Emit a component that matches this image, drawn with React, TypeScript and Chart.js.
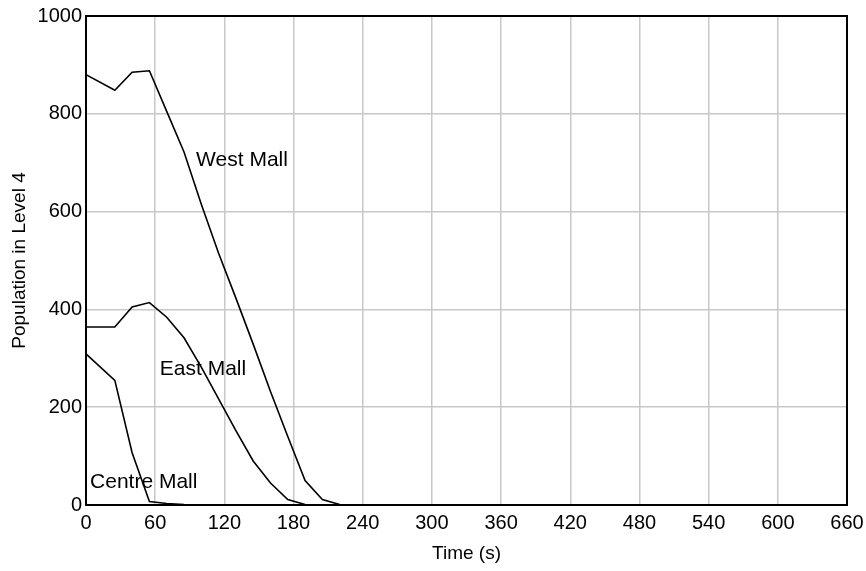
import React, { useEffect, useRef } from "react";
import { Chart, registerables } from "chart.js";

Chart.register(...registerables);

// Time (s)
const times = [0, 25, 40, 55, 70, 85, 100, 115, 130, 145, 160, 175, 190, 205, 220, 235, 648];
// Population in Level 4
const westMall = [880, 848, 885, 888, 805, 722, 615, 515, 423, 329, 232, 140, 50, 11, 1, 0, 0];
const eastMall = [364, 364, 405, 414, 384, 342, 282, 217, 152, 90, 45, 11, 1, 0, 0, 0, 0];
const centreMall = [309, 255, 107, 7, 3, 1, 0, 0, 0, 0, 0, 0, 0, 0, 0, 0, 0];

const seriesNames = ["West Mall", "East Mall", "Centre Mall"];
// label anchor (left edge, vertical centre) in data units
const labelTimes = [95.5, 64, 3.5];
const labelValues = [705, 278, 46];

const xTicks = [0, 60, 120, 180, 240, 300, 360, 420, 480, 540, 600, 660];
const yTicks = [0, 200, 400, 600, 800, 1000];

const FONT = "'Liberation Sans', Arial, sans-serif";

export default function App() {
  const ref = useRef<HTMLCanvasElement>(null);

  useEffect(() => {
    document.body.style.margin = "0";
    const canvas = ref.current;
    if (!canvas) return;

    const toPts = (vals: number[]) => times.map((t, i) => ({ x: t, y: vals[i] }));

    const frame = {
      id: "frameAndLabels",
      beforeDatasetsDraw(chart: any) {
        const { ctx, chartArea } = chart;
        ctx.save();
        ctx.strokeStyle = "#000";
        ctx.lineWidth = 2;
        ctx.strokeRect(chartArea.left, chartArea.top, chartArea.right - chartArea.left, chartArea.bottom - chartArea.top);
        ctx.restore();
      },
      afterDatasetsDraw(chart: any) {
        const { ctx, scales } = chart;
        ctx.save();
        ctx.fillStyle = "#000";
        ctx.font = `21px ${FONT}`;
        ctx.textAlign = "left";
        ctx.textBaseline = "middle";
        seriesNames.forEach((name, i) => {
          const x = scales.x.getPixelForValue(labelTimes[i]);
          const y = scales.y.getPixelForValue(labelValues[i]);
          ctx.fillText(name, x, y);
        });
        ctx.restore();
      },
    };

    const chart = new Chart(canvas, {
      type: "line",
      data: {
        datasets: [
          { label: seriesNames[0], data: toPts(westMall) },
          { label: seriesNames[1], data: toPts(eastMall) },
          { label: seriesNames[2], data: toPts(centreMall) },
        ].map((d) => ({
          ...d,
          borderColor: "#000",
          backgroundColor: "#000",
          borderWidth: 1.6,
          pointRadius: 0,
          tension: 0,
          fill: false,
        })),
      },
      options: {
        responsive: false,
        animation: false,
        devicePixelRatio: 1,
        layout: { padding: { top: 16, right: 19, left: 0, bottom: 0 } },
        plugins: { legend: { display: false }, tooltip: { enabled: false } },
        scales: {
          x: {
            type: "linear",
            min: 0,
            max: 660,
            afterBuildTicks: (scale: any) => {
              scale.ticks = xTicks.map((v) => ({ value: v }));
            },
            afterFit: (scale: any) => {
              scale.height = 66;
              scale.paddingLeft = 0;
              scale.paddingRight = 0;
            },
            grid: { color: "#c8c8c8", lineWidth: 1.5, drawTicks: false },
            border: { display: false },
            ticks: {
              color: "#000",
              font: { family: FONT, size: 20 },
              padding: 6,
              maxRotation: 0,
              autoSkip: false,
              callback: (v: any) => String(v),
            },
            title: {
              display: true,
              text: "Time (s)",
              color: "#000",
              font: { family: FONT, size: 19 },
              padding: { top: 0, bottom: 6 },
            },
          },
          y: {
            min: 0,
            max: 1000,
            afterBuildTicks: (scale: any) => {
              scale.ticks = yTicks.map((v) => ({ value: v }));
            },
            afterFit: (scale: any) => {
              scale.width = 86;
              scale.paddingTop = 0;
              scale.paddingBottom = 0;
            },
            grid: { color: "#c8c8c8", lineWidth: 1.5, drawTicks: false },
            border: { display: false },
            ticks: {
              color: "#000",
              font: { family: FONT, size: 20 },
              padding: 4,
              autoSkip: false,
              callback: (v: any) => String(v),
            },
            title: {
              display: true,
              text: "Population in Level 4",
              color: "#000",
              font: { family: FONT, size: 19 },
              padding: { top: 8, bottom: 0 },
            },
          },
        },
      },
      plugins: [frame],
    } as any);

    return () => chart.destroy();
  }, []);

  return (
    <div style={{ width: 866, height: 571, background: "#fff" }}>
      <canvas ref={ref} width={866} height={571} style={{ display: "block" }} />
    </div>
  );
}
